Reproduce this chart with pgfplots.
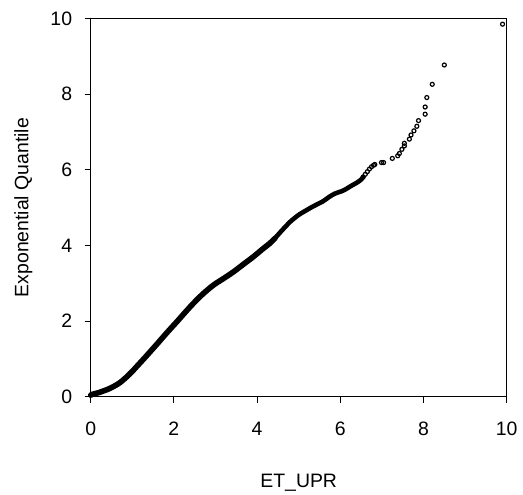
\documentclass[border=0pt]{standalone}
\usepackage{pgfplots}
\pgfplotsset{compat=1.18}
\usepackage{fontspec}
\setmainfont{Liberation Sans}
\pgfplotstableread{
x y
0.00 0.04
0.03 0.06
0.10 0.08
0.20 0.11
0.30 0.15
0.40 0.19
0.50 0.24
0.60 0.30
0.70 0.37
0.80 0.46
0.90 0.56
1.00 0.67
1.10 0.79
1.20 0.91
1.30 1.03
1.43 1.19
1.60 1.40
1.75 1.59
1.92 1.80
2.07 1.98
2.27 2.23
2.47 2.47
2.70 2.72
2.95 2.95
3.20 3.13
3.43 3.30
3.67 3.50
3.91 3.70
4.15 3.92
4.30 4.05
4.43 4.19
}\densea
\pgfplotstableread{
x y
4.43 4.19
4.60 4.40
4.79 4.62
4.92 4.74
5.03 4.83
5.17 4.92
5.31 5.01
5.45 5.09
5.59 5.17
5.73 5.28
5.87 5.37
6.07 5.45
6.27 5.58
6.40 5.66
6.50 5.74
6.55 5.81
}\denseb
\pgfplotstableread{
x y
6.55 5.81
6.60 5.88
6.65 5.95
6.70 6.02
6.75 6.08
6.80 6.12
6.83 6.14
6.99 6.19
7.04 6.19
7.25 6.30
7.38 6.37
7.42 6.43
7.48 6.54
7.54 6.63
7.54 6.70
7.66 6.81
7.70 6.92
7.77 7.03
7.84 7.15
7.88 7.30
8.04 7.47
8.04 7.66
8.08 7.91
8.21 8.26
8.50 8.77
9.90 9.85
}\sparse
\begin{document}
\fontsize{19.5}{23}\selectfont
\begin{tikzpicture}
\begin{axis}[
  scale only axis, width=416bp, height=378.2bp,
  xmin=0, xmax=10, ymin=0, ymax=10,
  xtick={0,2,...,10}, ytick={0,2,...,10},
  axis line style={line width=1bp},
  tick style={line width=1bp, black},
  tick align=outside, major tick length=6bp,
  xtick pos=bottom, ytick pos=left,
  /pgf/number format/assume math mode=true,
  tick label style={font=\fontsize{19.5}{23}\selectfont},
  label style={font=\fontsize{19.5}{23}\selectfont},
  xticklabel style={anchor=base, yshift=-33bp, inner sep=0pt},
  yticklabel style={anchor=east, xshift=-12.4bp, inner sep=0pt},
  xlabel={ET\_UPR}, ylabel={Exponential Quantile},
  xlabel style={at={(axis description cs:0.5,-0.2396)}, anchor=base, inner sep=0pt},
  ylabel style={at={(axis description cs:-0.15,0.5)}, anchor=base, inner sep=0pt},
  clip=false,
]
\addplot[black, line width=5.6bp, line join=round, line cap=round, smooth] table {\densea};
\addplot[black, line width=4.6bp, line join=round, line cap=round, smooth] table {\denseb};
\addplot[only marks, mark=o, mark size=2.0bp, black, mark options={line width=1.2bp}] table {\sparse};
\end{axis}
\path (current axis.south west) ++(-90.7bp,-98.3bp) rectangle ([shift={(16.3bp,18.5bp)}]current axis.north east);
\end{tikzpicture}
\end{document}
